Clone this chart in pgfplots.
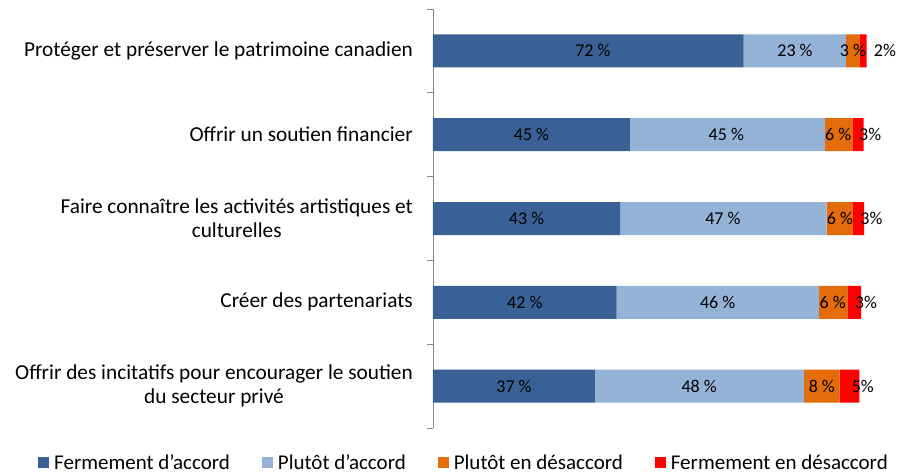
\documentclass[border=0pt]{standalone}
\usepackage{pgfplots}
\pgfplotsset{compat=1.18}
\usepackage{fontspec}
\setmainfont{Carlito}
\definecolor{c1}{HTML}{3A6196}
\definecolor{c2}{HTML}{95B3D7}
\definecolor{c3}{HTML}{E46C0A}
\definecolor{c4}{HTML}{FF0000}
\definecolor{axgray}{HTML}{868686}
\begin{document}
\begin{tikzpicture}
\pgfplotsset{common/.style={scale only axis, width=432bp, height=419bp,
  xmin=0, xmax=100, ymin=-0.5, ymax=4.5, y dir=reverse,
  at={(0,0)}, anchor=south west, clip=false}}
\begin{axis}[common,
  xbar stacked, bar width=33bp,
  axis x line=none, axis y line*=left,
  axis line style={axgray, line width=0.8bp},
  ytick={0,1,2,3,4}, major tick length=0pt,
  minor ytick={-0.5,0.5,1.5,2.5,3.5,4.5}, minor tick length=6bp,
  tick align=outside, minor tick style={axgray, line width=0.8bp},
  yticklabels={{Protéger et préserver le patrimoine canadien},
    {Offrir un soutien financier},
    {Faire connaître les activités artistiques et\\culturelles},
    {Créer des partenariats},
    {Offrir des incitatifs pour encourager le soutien\\du secteur privé}},
  yticklabel style={align=center, font=\fontsize{21.3bp}{24bp}\selectfont, inner sep=0pt, xshift=-20bp, text=black},
  legend columns=4,
  legend style={draw=none, at={(0.0718,-0.0835)}, anchor=center,
    font=\fontsize{21bp}{24bp}\selectfont,
    /tikz/every even column/.append style={column sep=30bp}},
  legend image code/.code={\fill[#1] (0bp,-5.5bp) rectangle (11bp,5.5bp); \path (0bp,0bp) -- (14bp,0bp);},
]
\addplot[fill=c1, draw=none] coordinates {(71.9,0) (45.6,1) (43.3,2) (42.5,3) (37.5,4)};
\addplot[fill=c2, draw=none] coordinates {(23.7,0) (45.1,1) (47.8,2) (46.8,3) (48.4,4)};
\addplot[fill=c3, draw=none] coordinates {(3.2,0) (6.4,1) (6.0,2) (6.6,3) (8.2,4)};
\addplot[fill=c4, draw=none] coordinates {(1.6,0) (2.6,1) (2.7,2) (3.2,3) (4.6,4)};
\legend{Fermement d’accord, Plutôt d’accord, Plutôt en désaccord, Fermement en désaccord}
\end{axis}
\begin{axis}[common, hide axis,
  nodes near coords, point meta=explicit symbolic,
  every node near coord/.style={anchor=center, font=\fontsize{18bp}{20bp}\selectfont, text=black, inner sep=0pt}]
\addplot[only marks, mark=none] coordinates {
  (37,0)[72 \%] (83.8,0)[23 \%] (97.2,0)[3 \%] (104.6,0)[2\%]
  (22.8,1)[45 \%] (67.9,1)[45 \%] (93.8,1)[6 \%] (101.2,1)[3\%]
  (21.65,2)[43 \%] (67.1,2)[47 \%] (94.2,2)[6 \%] (101.5,2)[3\%]
  (21.25,3)[42 \%] (65.9,3)[46 \%] (92.5,3)[6 \%] (100.2,3)[3\%]
  (18.75,4)[37 \%] (61.6,4)[48 \%] (90,4)[8 \%] (99.5,4)[5\%]
};
\end{axis}
\pgfresetboundingbox
\path[use as bounding box] (-433bp,-47bp) rectangle (466bp,428bp);
\end{tikzpicture}
\end{document}
